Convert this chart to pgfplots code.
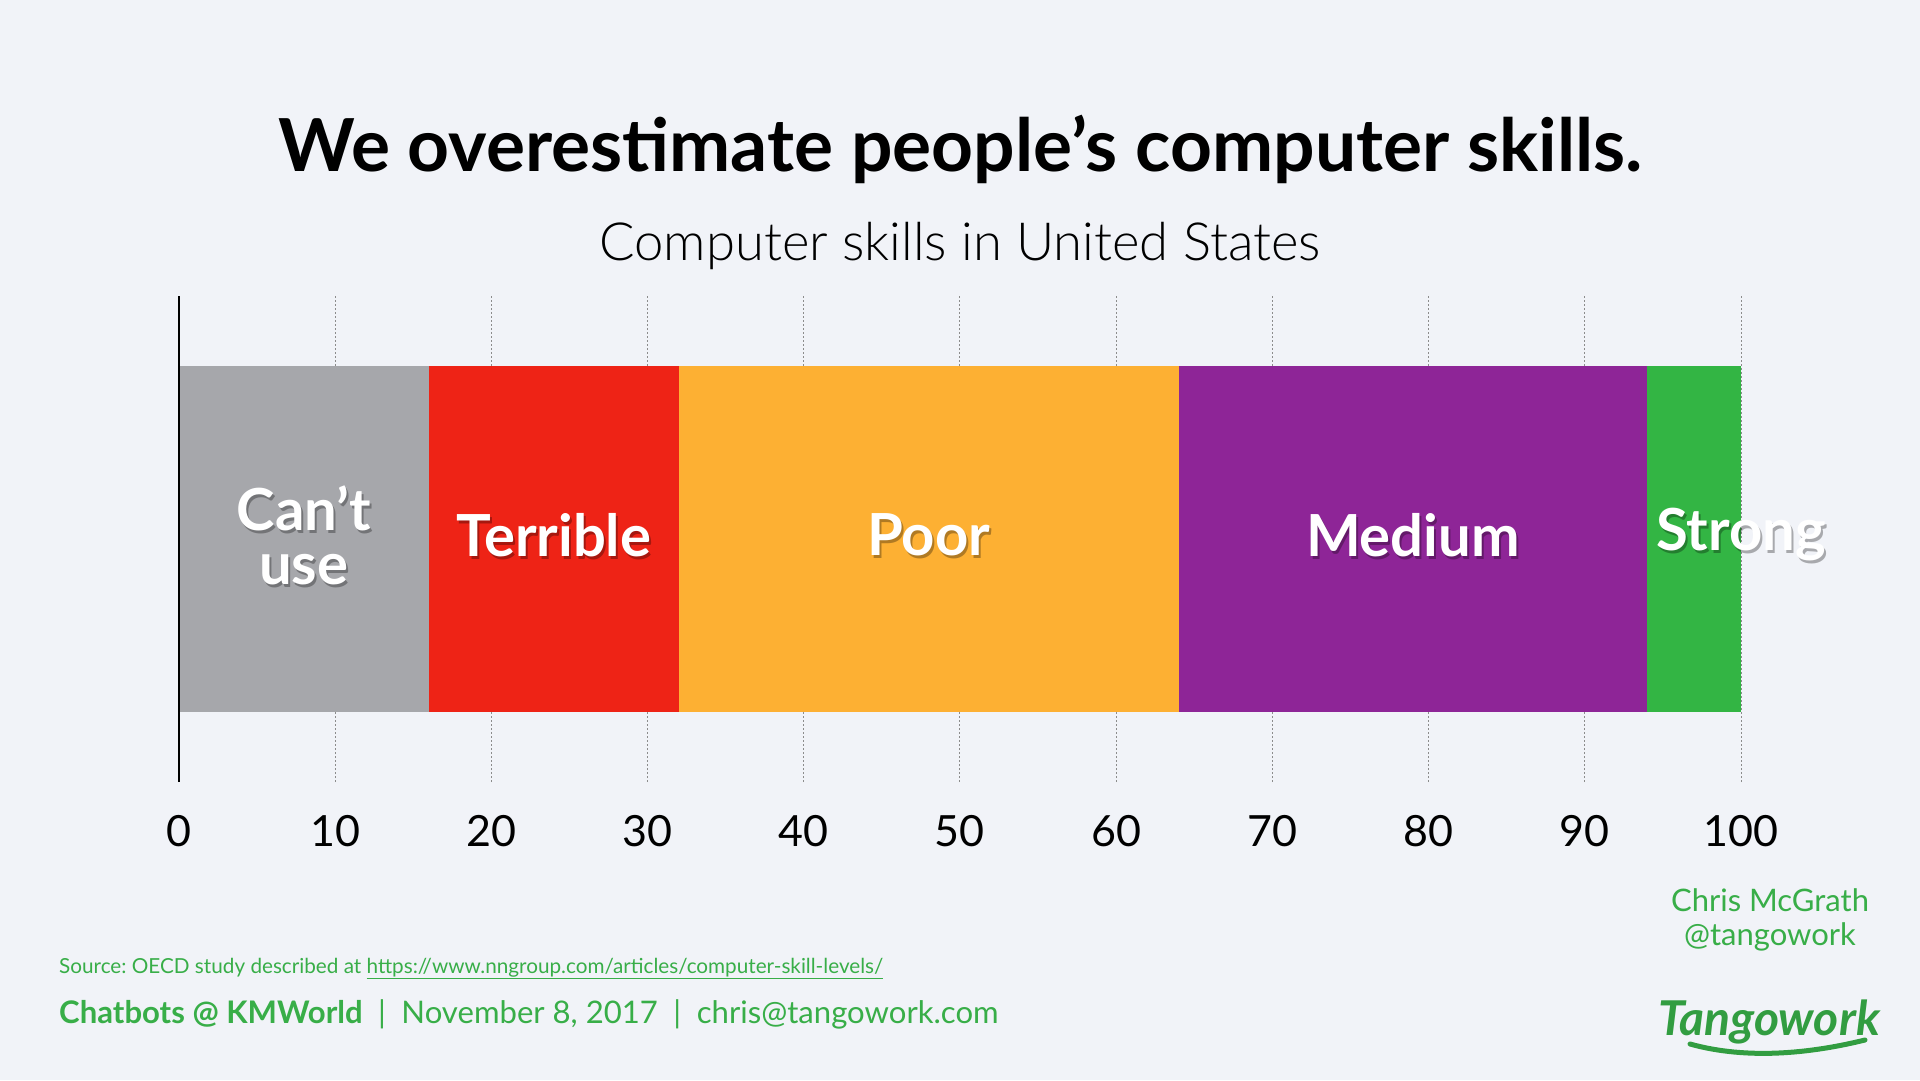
\documentclass[border=0pt]{standalone}
\usepackage{pgfplots}
\pgfplotsset{compat=1.18}
\usepackage{fontspec}
\setmainfont{Lato}
\newfontfamily\latolight{Lato Light}
\frenchspacing

\definecolor{bg}{HTML}{F1F3F8}
\definecolor{cgray}{HTML}{A6A7AB}
\definecolor{cred}{HTML}{EE2316}
\definecolor{corange}{HTML}{FDB033}
\definecolor{cpurple}{HTML}{8E2597}
\definecolor{cgreen}{HTML}{33B544}
\definecolor{tgreen}{HTML}{38AE48}

\newcommand{\fs}[1]{\fontsize{#1}{#1}\selectfont}
% white bar label with a soft shadow
\newcommand{\barlabel}[2]{%
  \node[text=black, opacity=0.3, align=center, font=\fontsize{58}{54}\selectfont\bfseries]
    at ([shift={(2pt,1pt)}]#1) {#2};
  \node[text=white, align=center, font=\fontsize{58}{54}\selectfont\bfseries]
    at ([shift={(0pt,4pt)}]#1) {#2};
}

\begin{document}
\begin{tikzpicture}[x=1pt,y=1pt]
\useasboundingbox (0,0) rectangle (1920,1080);
\fill[bg] (0,0) rectangle (1920,1080);

\node[anchor=base, font=\fs{73.1}\bfseries] at (960.6,908.6) {We overestimate people’s computer skills.};
\node[anchor=base, font=\fs{52.6}\latolight] at (960,819) {Computer skills in United States};

\begin{axis}[
  at={(178.8pt,298pt)}, anchor=south west,
  scale only axis, width=1562.2pt, height=486pt,
  xmin=0, xmax=100, ymin=-1, ymax=1,
  xbar stacked, bar width=346pt,
  axis line style={draw=none},
  xtick={0,10,...,100}, ytick=\empty,
  major tick length=0pt,
  xmajorgrids,
  grid style={dash pattern=on 2pt off 2pt, color=black!45, line width=1pt},
  xticklabel style={font=\fs{43}, inner sep=0pt, anchor=north, yshift=-33pt},
  /pgf/number format/assume math mode=true,
  every axis plot/.append style={draw=none},
]
\addplot[fill=cgray] coordinates {(16,0)};
\addplot[fill=cred] coordinates {(16,0)};
\addplot[fill=corange] coordinates {(32,0)};
\addplot[fill=cpurple] coordinates {(30,0)};
\addplot[fill=cgreen] coordinates {(6,0)};

\coordinate (y0) at (axis cs:0,-1);
\coordinate (y1) at (axis cs:0,1);
\coordinate (l1) at (axis cs:8,0);
\coordinate (l2) at (axis cs:24,0);
\coordinate (l3) at (axis cs:48,0);
\coordinate (l4) at (axis cs:79,0);
\coordinate (l5) at (axis cs:100,0);
\end{axis}

\draw[black, line width=1.5pt] (y0) -- (y1);
\barlabel{l1}{Can’t\\use}
\barlabel{l2}{Terrible}
\barlabel{l3}{Poor}
\barlabel{l4}{Medium}
\barlabel{l5}{Strong}

\node[anchor=base west, inner sep=0pt, text=tgreen, font=\fs{20.7}] at (59,106.5)
  {Source: OECD study described at \underline{https://www.nngroup.com/articles/computer-skill-levels/}};
\node[anchor=base west, inner sep=0pt, text=tgreen, font=\fs{31.1}] at (59,56.3)
  {\textbf{Chatbots @ KMWorld}\enspace|\enspace November 8, 2017\enspace|\enspace chris@tangowork.com};
\node[anchor=base, text=tgreen, font=\fs{31}] at (1770,169) {Chris McGrath};
\node[anchor=base, text=tgreen, font=\fs{31}] at (1770,135) {@tangowork};
\node[anchor=base, text=tgreen!90!black, font=\fs{48}\bfseries\itshape] at (1769,45) {Tangowork};
\draw[tgreen!90!black, line width=5pt, line cap=round] (1690,36) .. controls (1740,22) and (1800,24) .. (1865,40);
\end{tikzpicture}
\end{document}
